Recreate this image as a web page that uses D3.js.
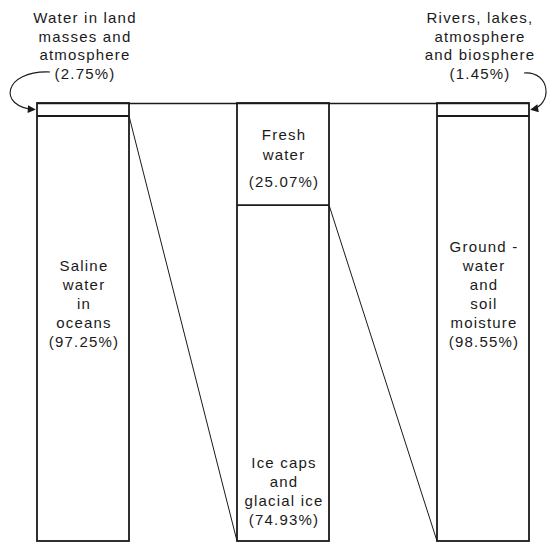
<!DOCTYPE html>
<html>
<head>
<meta charset="utf-8">
<script src="https://cdn.jsdelivr.net/npm/d3@7"></script>
<style>
  html, body { margin: 0; padding: 0; background: #fff; }
  text { font-family: "Liberation Sans", Arial, sans-serif; font-size: 15px; letter-spacing: 1.2px; fill: #1a1a1a; }
</style>
</head>
<body>
<svg id="chart" width="551" height="543"></svg>
<script>
// columns of the breakdown, left to right
const columns = ['total', 'land', 'fresh'];
// share of the top (small) segment in each column, percent
const topShare = [2.75, 25.07, 1.45];
// share of the bottom segment, percent
const bottomShare = [97.25, 74.93, 98.55];
// labels inside each segment
const topLabels = [[], ['Fresh', 'water', '(25.07%)'], []];
const bottomLabels = [
  ['Saline', 'water', 'in', 'oceans', '(97.25%)'],
  ['Ice caps', 'and', 'glacial ice', '(74.93%)'],
  ['Ground -', 'water', 'and', 'soil', 'moisture', '(98.55%)']
];
// call-out labels above the chart
const leftNote = ['Water in land', 'masses and', 'atmosphere', '(2.75%)'];
const rightNote = ['Rivers, lakes,', 'atmosphere', 'and biosphere', '(1.45%)'];

const svg = d3.select('#chart');
const ink = '#1a1a1a';
const lineH = 19;

const x = d3.scaleBand().domain(columns).range([37, 529]).paddingInner(0.54).paddingOuter(0);
const y = d3.scaleLinear().domain([0, 100]).range([103, 541]);
// small segments are not drawn to scale so they stay readable
const seg = d3.scaleLinear().domain([0, 100]).range([0, 407]);
const minSeg = 13;
const bw = x.bandwidth();

const split = topShare.map(v => y(0) + Math.max(minSeg, seg(v)));

// arrowhead
svg.append('defs').append('marker')
  .attr('id', 'head')
  .attr('viewBox', '0 0 10 10')
  .attr('refX', 9).attr('refY', 5)
  .attr('markerWidth', 11).attr('markerHeight', 8)
  .attr('markerUnits', 'userSpaceOnUse')
  .attr('orient', 'auto')
  .append('path')
  .attr('d', 'M0,0L10,5L0,10z')
  .attr('fill', ink);

// long line across the tops
svg.append('line')
  .attr('x1', x(columns[0])).attr('x2', x(columns[2]) + bw)
  .attr('y1', y(0) + 0.5).attr('y2', y(0) + 0.5)
  .attr('stroke', ink).attr('stroke-width', 1.3);

// diagonal connectors: split of one column to bottom of the next
svg.selectAll('.link')
  .data([0, 1])
  .join('line')
  .attr('class', 'link')
  .attr('x1', i => x(columns[i]) + bw)
  .attr('y1', i => split[i])
  .attr('x2', i => x(columns[i + 1]))
  .attr('y2', y(100))
  .attr('stroke', ink).attr('stroke-width', 1);

// columns
const col = svg.selectAll('.col')
  .data(columns)
  .join('g')
  .attr('class', 'col')
  .attr('transform', d => `translate(${x(d)},0)`);

col.append('rect')
  .attr('x', 0).attr('y', y(0))
  .attr('width', bw).attr('height', y(100) - y(0))
  .attr('fill', 'none').attr('stroke', ink).attr('stroke-width', 1.8);

col.append('line')
  .attr('x1', 0).attr('x2', bw)
  .attr('y1', (d, i) => split[i]).attr('y2', (d, i) => split[i])
  .attr('stroke', ink).attr('stroke-width', 1.8);

// labels in top segments (fresh water box); the percentage sits a bit lower
const topOffsets = [37, 57, 84];
col.each(function (d, i) {
  const lines = topLabels[i];
  if (!lines.length) return;
  d3.select(this).selectAll('.tl')
    .data(lines)
    .join('text')
    .attr('class', 'tl')
    .attr('x', bw / 2 + 1)
    .attr('y', (t, k) => y(0) + topOffsets[k])
    .attr('text-anchor', 'middle')
    .text(t => t);
});

// labels in bottom segments, anchored on their last line
const lastLineY = [347, 525, 347];
col.each(function (d, i) {
  const lines = bottomLabels[i];
  d3.select(this).selectAll('.bl')
    .data(lines)
    .join('text')
    .attr('class', 'bl')
    .attr('x', bw / 2 + 1)
    .attr('y', (t, k) => lastLineY[i] - (lines.length - 1 - k) * lineH)
    .attr('text-anchor', 'middle')
    .text(t => t);
});

// call-out notes
function note(lines, cx) {
  svg.append('g').selectAll('text')
    .data(lines)
    .join('text')
    .attr('x', cx)
    .attr('y', (t, k) => 23 + k * 18.6)
    .attr('text-anchor', 'middle')
    .text(t => t);
}
note(leftNote, x(columns[0]) + bw / 2 + 2);
note(rightNote, x(columns[2]) + bw / 2 - 3);

// curved arrows pointing at the small top segments
const leftTip = [x(columns[0]) - 2, (y(0) + split[0]) / 2];
const lp = d3.path();
lp.moveTo(leftTip[0] + 15, 72);
lp.bezierCurveTo(leftTip[0] - 32, 70, leftTip[0] - 38, leftTip[1] - 2, leftTip[0], leftTip[1]);
svg.append('path')
  .attr('d', lp.toString())
  .attr('fill', 'none').attr('stroke', ink).attr('stroke-width', 1.1)
  .attr('marker-end', 'url(#head)');

const rightTip = [x(columns[2]) + bw + 2, (y(0) + split[2]) / 2];
const rp = d3.path();
rp.moveTo(rightTip[0] - 7, 73);
rp.bezierCurveTo(rightTip[0] + 20, 71, rightTip[0] + 22, rightTip[1] - 4, rightTip[0], rightTip[1]);
svg.append('path')
  .attr('d', rp.toString())
  .attr('fill', 'none').attr('stroke', ink).attr('stroke-width', 1.1)
  .attr('marker-end', 'url(#head)');
</script>
</body>
</html>
